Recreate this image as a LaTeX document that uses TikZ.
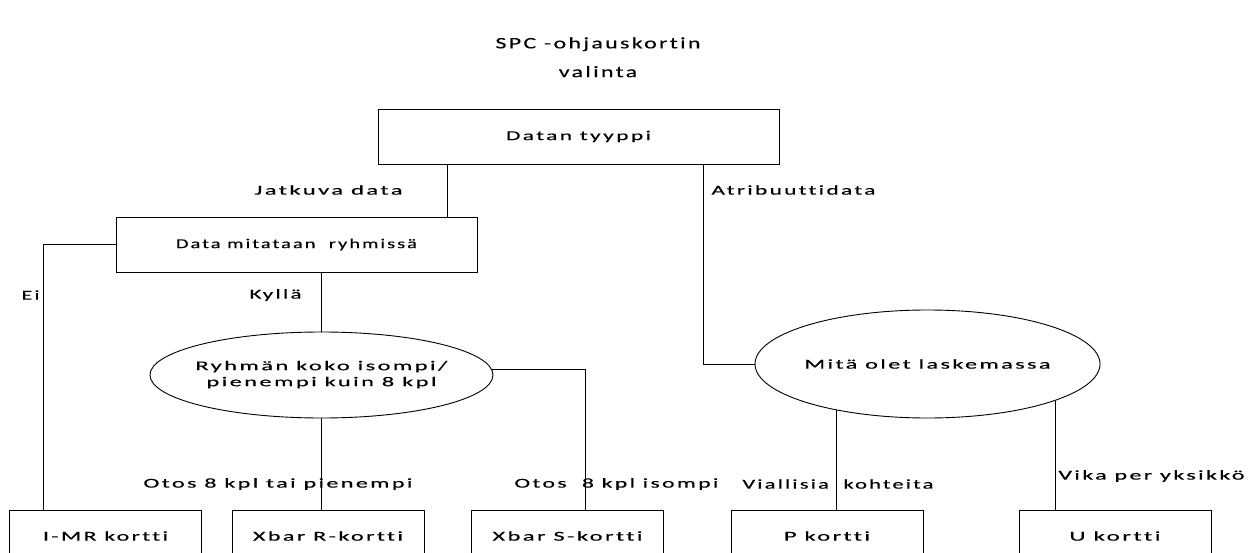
\documentclass[tikz,border=0pt]{standalone}
\usepackage{fontspec}
\usepackage{graphicx}
\newfontfamily\dfont[LetterSpace=10,Ligatures=NoCommon,FakeBold=0.3]{Carlito}
\newcommand\fw[2]{\resizebox{#1pt}{\height}{#2}}
\newcommand\twol[2]{\begin{tabular}{@{}c@{}}#1\\#2\end{tabular}}
\usetikzlibrary{shapes.geometric}
\begin{document}
\begin{tikzpicture}[x=1pt,y=-1pt,line width=0.9pt,
  every node/.style={font=\dfont\fontsize{13.5}{16}\selectfont, inner sep=0pt},
  box/.style={draw,rectangle},
  bbox/.style={draw,rectangle,minimum width=192,minimum height=60,anchor=north},
  ell/.style={draw,ellipse,inner xsep=-20pt},
  lbl/.style={}]
\useasboundingbox (0,0) rectangle (1255,553);
\clip (0,0) rectangle (1255,553);
\node[font=\dfont\fontsize{16}{25}\selectfont] (title) at (598,57) {\renewcommand\arraystretch{1.15}\fw{205}{\twol{SPC -ohjauskortin}{valinta}}};
\node[box,minimum width=401,minimum height=55] (dt) at (578.5,136.5) {\fw{145}{Datan tyyppi}};
\node[box,minimum width=361,minimum height=55] (dm) at (296.5,244.5) {\fw{241}{Data mitataan\ \ ryhmissä}};
\node[ell,minimum width=343,minimum height=86] (e1) at (321.5,375) {\fw{252}{\twol{Ryhmän koko isompi/}{pienempi kuin 8 kpl}}};
\node[ell,minimum width=345,minimum height=108] (e2) at (927.5,364) {\fw{246}{Mitä olet laskemassa}};
\node[bbox] (imr) at (105.5,510) {\raisebox{9pt}{\fw{125}{I-MR kortti}}};
\node[bbox] (xr) at (328,510) {\raisebox{9pt}{\fw{150}{Xbar R-kortti}}};
\node[bbox] (xs) at (567.5,510) {\raisebox{9pt}{\fw{150}{Xbar S-kortti}}};
\node[bbox] (pk) at (827,510) {\raisebox{9pt}{\fw{86}{P kortti}}};
\node[bbox] (uk) at (1115,510) {\raisebox{9pt}{\fw{91}{U kortti}}};
% connectors
\draw ([xshift=-131.5]dt.south) -- ([xshift=-131.5]dt.south |- dm.north);
\draw ([xshift=124.5]dt.south) |- (e2.west);
\draw (dm.west) -| ([xshift=-62.5]imr.north);
\draw (e1.north |- dm.south) -- (e1.north);
\draw (e1.south) -- (e1.south |- xr.north);
\draw (e1.2.7) -| ([xshift=17.5]xs.north);
\draw (e2.207.3) -- (e2.207.3 |- pk.north);
\draw (e2.344.9) -- (e2.344.9 |- uk.north);
% labels
\node[lbl,anchor=east] (l1) at (403,190) {\fw{148}{Jatkuva data}};
\node[lbl,anchor=west] (l2) at (711,190) {\fw{164}{Atribuuttidata}};
\node[lbl,anchor=east] (l3) at (40,295) {\fw{18}{Ei}};
\node[lbl,anchor=east] (l4) at (302,295) {\fw{52}{Kyllä}};
\node[lbl,anchor=west] (l5) at (143,484) {\fw{269}{Otos 8 kpl tai pienempi}};
\node[lbl,anchor=west] (l6) at (514,484) {\fw{204}{Otos\ \ 8 kpl isompi}};
\node[lbl,anchor=west] (l7) at (742,484) {\fw{191}{Viallisia\ \ kohteita}};
\node[lbl,anchor=west] (l8) at (1058,476) {\fw{186}{Vika per yksikkö}};
\end{tikzpicture}
\end{document}
